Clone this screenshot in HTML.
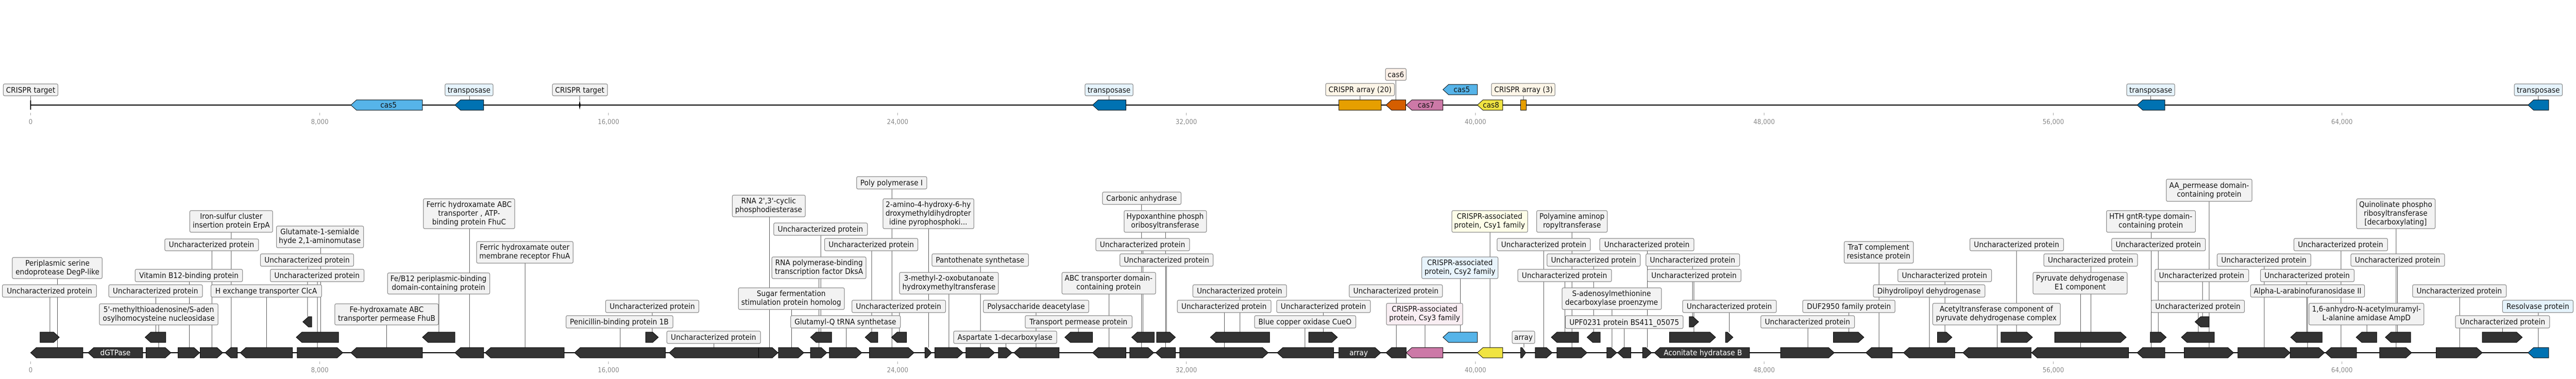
<!DOCTYPE html>
<html><head><meta charset="utf-8"><style>
html,body{margin:0;padding:0;background:#fff;width:100%;height:100%;overflow:hidden;}
svg{display:block;font-family:"DejaVu Sans","Liberation Sans",sans-serif;width:100vw;height:100vh;}
.g{fill:#333;stroke:#000;stroke-width:1}
.ln{stroke:#444;stroke-width:1}
.bx{fill:#f2f2f2;stroke:#888;stroke-width:1.3}
.t{font-size:15px;fill:#111;text-anchor:middle}
.w{font-size:15px;fill:#fff;text-anchor:middle}
.tk{font-size:13px;fill:#888;text-anchor:middle}
.tm{stroke:#999;stroke-width:1}
</style></head><body>
<svg viewBox="0 0 5470 736" preserveAspectRatio="none" xmlns="http://www.w3.org/2000/svg">
<!-- TOP TRACK -->
<line x1="65" y1="204" x2="5412" y2="204" stroke="#000" stroke-width="2"/>
<g class="tm">
<line x1="65" y1="219" x2="65" y2="224"/><line x1="679" y1="219" x2="679" y2="224"/><line x1="1292" y1="219" x2="1292" y2="224"/><line x1="1906" y1="219" x2="1906" y2="224"/><line x1="2519" y1="219" x2="2519" y2="224"/><line x1="3133" y1="219" x2="3133" y2="224"/><line x1="3746" y1="219" x2="3746" y2="224"/><line x1="4360" y1="219" x2="4360" y2="224"/><line x1="4973" y1="219" x2="4973" y2="224"/>
</g>
<g class="tk">
<text x="65" y="241">0</text><text x="679" y="241">8,000</text><text x="1292" y="241">16,000</text><text x="1906" y="241">24,000</text><text x="2519" y="241">32,000</text><text x="3133" y="241">40,000</text><text x="3746" y="241">48,000</text><text x="4360" y="241">56,000</text><text x="4973" y="241">64,000</text>
</g>
<g class="ln">
<line x1="65" y1="186" x2="65" y2="195"/><line x1="1231" y1="186" x2="1231" y2="195"/>
<line x1="997" y1="186" x2="997" y2="194"/><line x1="2355" y1="186" x2="2355" y2="194"/><line x1="4567" y1="186" x2="4567" y2="194"/><line x1="5390" y1="186" x2="5390" y2="194"/>
<line x1="2888" y1="186" x2="2888" y2="194"/><line x1="2964" y1="156" x2="2964" y2="194"/><line x1="3235" y1="186" x2="3235" y2="194"/>
</g>
<line x1="65" y1="195" x2="65" y2="213" stroke="#000" stroke-width="2"/>
<polygon points="1231,195 1233,204 1231,213 1229,204" fill="#000"/>
<polygon class="g" style="fill:#56b4e9" points="745,204 757,194 897,194 897,214 757,214"/>
<text class="t" x="825" y="209">cas5</text>
<polygon class="g" style="fill:#0072b2" points="966,204 978,194 1027,194 1027,214 978,214"/>
<polygon class="g" style="fill:#0072b2" points="2320,204 2332,194 2391,194 2391,214 2332,214"/>
<rect class="g" style="fill:#e69f00" x="2843" y="194" width="90" height="20"/>
<polygon class="g" style="fill:#d55e00" points="2943,204 2955,194 2985,194 2985,214 2955,214"/>
<polygon class="g" style="fill:#cc79a7" points="2986,204 2998,194 3064,194 3064,214 2998,214"/>
<text class="t" x="3028" y="209">cas7</text>
<polygon class="g" style="fill:#56b4e9" points="3064,174 3076,164 3137,164 3137,184 3076,184"/>
<text class="t" x="3104" y="179">cas5</text>
<polygon class="g" style="fill:#f0e442" points="3137,204 3149,194 3191,194 3191,214 3149,214"/>
<text class="t" x="3166" y="209">cas8</text>
<rect class="g" style="fill:#e69f00" x="3229" y="194" width="12" height="20"/>
<polygon class="g" style="fill:#0072b2" points="4538,204 4550,194 4597,194 4597,214 4550,214"/>
<polygon class="g" style="fill:#0072b2" points="5368,204 5380,194 5412,194 5412,214 5380,214"/>
<rect class="bx" x="7" y="163" width="116" height="23" rx="3"/><text class="t" x="65" y="180">CRISPR target</text>
<rect class="bx" x="1173" y="163" width="117" height="23" rx="3"/><text class="t" x="1231" y="180">CRISPR target</text>
<rect class="bx" style="fill:#e6f4fc" x="945" y="163" width="102" height="23" rx="3"/><text class="t" x="996" y="180">transposase</text>
<rect class="bx" style="fill:#e6f4fc" x="2304" y="163" width="102" height="23" rx="3"/><text class="t" x="2355" y="180">transposase</text>
<rect class="bx" style="fill:#e6f4fc" x="4516" y="163" width="102" height="23" rx="3"/><text class="t" x="4567" y="180">transposase</text>
<rect class="bx" style="fill:#e6f4fc" x="5339" y="163" width="102" height="23" rx="3"/><text class="t" x="5390" y="180">transposase</text>
<rect class="bx" style="fill:#fdf6e8" x="2815" y="162" width="146" height="24" rx="3"/><text class="t" x="2888" y="179">CRISPR array (20)</text>
<rect class="bx" style="fill:#fdf1e8" x="2942" y="133" width="44" height="23" rx="3"/><text class="t" x="2964" y="150">cas6</text>
<rect class="bx" style="fill:#fdf6e8" x="3167" y="162" width="135" height="24" rx="3"/><text class="t" x="3235" y="179">CRISPR array (3)</text>

<!-- BOTTOM TRACK -->
<line x1="65" y1="685" x2="5412" y2="685" stroke="#000" stroke-width="2"/>
<g class="tm">
<line x1="65" y1="702" x2="65" y2="707"/><line x1="679" y1="702" x2="679" y2="707"/><line x1="1292" y1="702" x2="1292" y2="707"/><line x1="1906" y1="702" x2="1906" y2="707"/><line x1="2519" y1="702" x2="2519" y2="707"/><line x1="3133" y1="702" x2="3133" y2="707"/><line x1="3746" y1="702" x2="3746" y2="707"/><line x1="4360" y1="702" x2="4360" y2="707"/><line x1="4973" y1="702" x2="4973" y2="707"/>
</g>
<g class="tk">
<text x="65" y="723">0</text><text x="679" y="723">8,000</text><text x="1292" y="723">16,000</text><text x="1906" y="723">24,000</text><text x="2519" y="723">32,000</text><text x="3133" y="723">40,000</text><text x="3746" y="723">48,000</text><text x="4360" y="723">56,000</text><text x="4973" y="723">64,000</text>
</g>
<g class="ln">
<line x1="106" y1="577" x2="106" y2="645"/><line x1="122" y1="541" x2="122" y2="675"/><line x1="331" y1="577" x2="331" y2="645"/><line x1="337" y1="631" x2="337" y2="675"/><line x1="402" y1="547" x2="402" y2="675"/><line x1="450" y1="487" x2="450" y2="675"/><line x1="491" y1="451" x2="491" y2="675"/><line x1="566" y1="577" x2="566" y2="675"/><line x1="653" y1="517" x2="653" y2="615"/><line x1="674" y1="547" x2="674" y2="675"/><line x1="681" y1="481" x2="681" y2="645"/>
<line x1="821" y1="631" x2="821" y2="675"/><line x1="932" y1="571" x2="932" y2="645"/><line x1="997" y1="444" x2="997" y2="675"/><line x1="1115" y1="511" x2="1115" y2="675"/><line x1="1317" y1="637" x2="1317" y2="675"/><line x1="1385" y1="607" x2="1385" y2="645"/>
<line x1="1516" y1="667" x2="1516" y2="675"/><line x1="1634" y1="421" x2="1634" y2="675"/><line x1="1681" y1="601" x2="1681" y2="675"/><line x1="1743" y1="457" x2="1743" y2="645"/><line x1="1739" y1="541" x2="1739" y2="675"/><line x1="1797" y1="637" x2="1797" y2="675"/><line x1="1851" y1="487" x2="1851" y2="645"/><line x1="1894" y1="367" x2="1894" y2="675"/><line x1="1972" y1="444" x2="1972" y2="675"/><line x1="1910" y1="607" x2="1910" y2="645"/><line x1="2082" y1="517" x2="2082" y2="675"/><line x1="2015" y1="571" x2="2015" y2="675"/><line x1="2136" y1="667" x2="2136" y2="675"/>
<line x1="2200" y1="607" x2="2200" y2="675"/><line x1="2290" y1="637" x2="2290" y2="645"/><line x1="2355" y1="571" x2="2355" y2="675"/><line x1="2424" y1="397" x2="2424" y2="675"/><line x1="2475" y1="451" x2="2475" y2="675"/><line x1="2427" y1="487" x2="2427" y2="645"/><line x1="2477" y1="517" x2="2477" y2="645"/><line x1="2633" y1="577" x2="2633" y2="645"/><line x1="2600" y1="607" x2="2600" y2="675"/><line x1="2810" y1="607" x2="2810" y2="645"/><line x1="2771" y1="637" x2="2771" y2="675"/>
<line x1="2965" y1="577" x2="2965" y2="675"/><line x1="3026" y1="631" x2="3026" y2="675"/><line x1="3101" y1="541" x2="3101" y2="645"/><line x1="3164" y1="451" x2="3164" y2="675"/><line x1="3236" y1="667" x2="3236" y2="675"/><line x1="3338" y1="451" x2="3338" y2="675"/><line x1="3278" y1="487" x2="3278" y2="675"/><line x1="3323" y1="547" x2="3323" y2="645"/><line x1="3498" y1="487" x2="3498" y2="675"/><line x1="3384" y1="517" x2="3384" y2="645"/><line x1="3594" y1="517" x2="3594" y2="615"/><line x1="3597" y1="547" x2="3597" y2="645"/><line x1="3423" y1="601" x2="3423" y2="675"/><line x1="3449" y1="638" x2="3449" y2="675"/><line x1="3672" y1="607" x2="3672" y2="645"/><line x1="3839" y1="637" x2="3839" y2="675"/>
<line x1="3926" y1="607" x2="3926" y2="645"/><line x1="3990" y1="511" x2="3990" y2="675"/><line x1="4097" y1="577" x2="4097" y2="675"/><line x1="4130" y1="547" x2="4130" y2="645"/><line x1="4241" y1="631" x2="4241" y2="675"/><line x1="4282" y1="487" x2="4282" y2="645"/><line x1="4440" y1="517" x2="4440" y2="645"/><line x1="4418" y1="571" x2="4418" y2="675"/><line x1="4568" y1="451" x2="4568" y2="675"/><line x1="4583" y1="487" x2="4583" y2="645"/><line x1="4691" y1="391" x2="4691" y2="675"/><line x1="4677" y1="547" x2="4677" y2="615"/><line x1="4668" y1="607" x2="4668" y2="645"/>
<line x1="4808" y1="517" x2="4808" y2="675"/><line x1="4898" y1="547" x2="4898" y2="645"/><line x1="4900" y1="577" x2="4900" y2="675"/><line x1="4971" y1="487" x2="4971" y2="675"/><line x1="5026" y1="631" x2="5026" y2="645"/><line x1="5088" y1="444" x2="5088" y2="675"/><line x1="5091" y1="517" x2="5091" y2="645"/><line x1="5223" y1="577" x2="5223" y2="675"/><line x1="5314" y1="637" x2="5314" y2="645"/><line x1="5390" y1="607" x2="5390" y2="675"/>
</g>

<g class="g">
<polygon points="65,685 77,675 176,675 176,695 77,695"/>
<polygon points="187,685 199,675 303,675 303,695 199,695"/>
<polygon points="310,675 351,675 363,685 351,695 310,695"/>
<polygon points="378,675 412,675 424,685 412,695 378,695"/>
<polygon points="425,675 461,675 473,685 461,695 425,695"/>
<polygon points="478,685 490,675 504,675 504,695 490,695"/>
<polygon points="510,685 522,675 621,675 621,695 522,695"/>
<polygon points="631,675 716,675 728,685 716,695 631,695"/>
<polygon points="745,685 757,675 897,675 897,695 757,695"/>
<polygon points="966,685 978,675 1027,675 1027,695 978,695"/>
<polygon points="1030,685 1042,675 1198,675 1198,695 1042,695"/>
<polygon points="1220,685 1232,675 1413,675 1413,695 1232,695"/>
<polygon points="1421,685 1433,675 1611,675 1611,695 1433,695"/>
<polygon points="1611,675 1640,675 1652,685 1640,695 1611,695"/>
<polygon points="1653,675 1695,675 1707,685 1695,695 1653,695"/>
<polygon points="1721,675 1744,675 1756,685 1744,695 1721,695"/>
<polygon points="1761,675 1818,675 1830,685 1818,695 1761,695"/>
<polygon points="1846,675 1929,675 1941,685 1929,695 1846,695"/>
<polygon points="1964,675 1968,675 1978,685 1968,695 1964,695"/>
<polygon points="1985,675 2033,675 2045,685 2033,695 1985,695"/>
<polygon points="2051,675 2100,675 2112,685 2100,695 2051,695"/>
<polygon points="2120,675 2137,675 2149,685 2137,695 2120,695"/>
<polygon points="2153,685 2165,675 2249,675 2249,695 2165,695"/>
<polygon points="2320,685 2332,675 2391,675 2391,695 2332,695"/>
<polygon points="2399,675 2438,675 2450,685 2438,695 2399,695"/>
<polygon points="2454,685 2466,675 2496,675 2496,695 2466,695"/>
<polygon points="2505,675 2681,675 2693,685 2681,695 2505,695"/>
<polygon points="2712,685 2724,675 2832,675 2832,695 2724,695"/>
<polygon points="2843,675 2920,675 2932,685 2920,695 2843,695"/>
<polygon points="2943,685 2955,675 2986,675 2986,695 2955,695"/>
<polygon style="fill:#cc79a7" points="2986,685 2998,675 3064,675 3064,695 2998,695"/>
<polygon style="fill:#f0e442" points="3137,685 3149,675 3191,675 3191,695 3149,695"/>
<polygon points="3229,675 3232,675 3240,685 3232,695 3229,695"/>
<polygon points="3260,675 3284,675 3296,685 3284,695 3260,695"/>
<polygon points="3306,675 3358,675 3370,685 3358,695 3306,695"/>
<polygon points="3412,675 3421,675 3433,685 3421,695 3412,695"/>
<polygon points="3435,685 3447,675 3463,675 3463,695 3447,695"/>
<polygon points="3488,675 3495,675 3507,685 3495,695 3488,695"/>
<polygon points="3513,685 3525,675 3715,675 3715,695 3525,695"/>
<polygon points="3781,675 3883,675 3895,685 3883,695 3781,695"/>
<polygon points="3962,685 3974,675 4018,675 4018,695 3974,695"/>
<polygon points="4042,685 4054,675 4151,675 4151,695 4054,695"/>
<polygon points="4168,685 4180,675 4313,675 4313,695 4180,695"/>
<polygon points="4314,685 4326,675 4520,675 4520,695 4326,695"/>
<polygon points="4538,685 4550,675 4597,675 4597,695 4550,695"/>
<polygon points="4638,675 4731,675 4743,685 4731,695 4638,695"/>
<polygon points="4752,675 4851,675 4863,685 4851,695 4752,695"/>
<polygon points="4863,675 4924,675 4936,685 4924,695 4863,695"/>
<polygon points="4938,685 4950,675 5004,675 5004,695 4950,695"/>
<polygon points="5053,675 5109,675 5121,685 5109,695 5053,695"/>
<polygon points="5173,675 5259,675 5271,685 5259,695 5173,695"/>
<polygon style="fill:#0072b2" points="5368,685 5380,675 5412,675 5412,695 5380,695"/>
</g>
<g class="g">
<polygon points="85,645 114,645 126,655 114,665 85,665"/>
<polygon points="308,655 320,645 352,645 352,665 320,665"/>
<polygon points="629,655 641,645 719,645 719,665 641,665"/>
<polygon points="897,655 909,645 966,645 966,665 909,665"/>
<polygon points="1371,645 1386,645 1398,655 1386,665 1371,665"/>
<polygon points="1721,655 1733,645 1766,645 1766,665 1733,665"/>
<polygon points="1837,655 1849,645 1864,645 1864,665 1849,665"/>
<polygon points="1893,655 1905,645 1925,645 1925,665 1905,665"/>
<polygon points="2261,655 2273,645 2320,645 2320,665 2273,665"/>
<polygon points="2403,655 2415,645 2451,645 2451,665 2415,665"/>
<polygon points="2456,645 2484,645 2496,655 2484,665 2456,665"/>
<polygon points="2570,655 2582,645 2696,645 2696,665 2582,665"/>
<polygon points="2779,645 2828,645 2840,655 2828,665 2779,665"/>
<polygon style="fill:#56b4e9" points="3064,655 3076,645 3137,645 3137,665 3076,665"/>
<polygon points="3294,655 3306,645 3352,645 3352,665 3306,665"/>
<polygon points="3370,655 3382,645 3398,645 3398,665 3382,665"/>
<polygon points="3545,645 3631,645 3643,655 3631,665 3545,665"/>
<polygon points="3664,645 3668,645 3680,655 3668,665 3664,665"/>
<polygon points="3893,645 3946,645 3958,655 3946,665 3893,665"/>
<polygon points="4114,645 4133,645 4145,655 4133,665 4114,665"/>
<polygon points="4249,645 4304,645 4316,655 4304,665 4249,665"/>
<polygon points="4363,645 4503,645 4515,655 4503,665 4363,665"/>
<polygon points="4566,645 4588,645 4600,655 4588,665 4566,665"/>
<polygon points="4632,655 4644,645 4702,645 4702,665 4644,665"/>
<polygon points="4864,655 4876,645 4931,645 4931,665 4876,665"/>
<polygon points="5003,655 5015,645 5047,645 5047,665 5015,665"/>
<polygon points="5065,655 5077,645 5119,645 5119,665 5077,665"/>
<polygon points="5271,645 5344,645 5356,655 5344,665 5271,665"/>
<polygon points="643,625 655,615 662,615 662,635 655,635"/>
<polygon points="3587,615 3595,615 3607,625 3595,635 3587,635"/>
<polygon points="4661,625 4673,615 4691,615 4691,635 4673,635"/>
</g>
<text class="w" x="245" y="690">dGTPase</text>
<text class="w" x="2885" y="690">array</text>
<text class="w" x="3616" y="690">Aconitate hydratase B</text>

<g>
<rect class="bx" x="5" y="553" width="200" height="24" rx="3"/><text class="t" x="105" y="570">Uncharacterized protein</text>
<rect class="bx" x="26" y="500" width="191" height="41" rx="3"/><text class="t" x="122" y="516">Periplasmic serine</text><text class="t" x="122" y="533">endoprotease DegP-like</text>
<rect class="bx" x="231" y="553" width="199" height="24" rx="3"/><text class="t" x="330" y="570">Uncharacterized protein</text>
<rect class="bx" x="211" y="590" width="252" height="41" rx="3"/><text class="t" x="337" y="606">5'-methylthioadenosine/S-aden</text><text class="t" x="337" y="623">osylhomocysteine nucleosidase</text>
<rect class="bx" x="287" y="523" width="228" height="24" rx="3"/><text class="t" x="401" y="540">Vitamin B12-binding protein</text>
<rect class="bx" x="350" y="464" width="199" height="23" rx="3"/><text class="t" x="449" y="480">Uncharacterized protein</text>
<rect class="bx" x="403" y="409" width="176" height="42" rx="3"/><text class="t" x="491" y="425">Iron-sulfur cluster</text><text class="t" x="491" y="442">insertion protein ErpA</text>
<rect class="bx" x="448" y="553" width="235" height="24" rx="3"/><text class="t" x="565" y="570">H exchange transporter ClcA</text>
<rect class="bx" x="553" y="493" width="198" height="24" rx="3"/><text class="t" x="652" y="510">Uncharacterized protein</text>
<rect class="bx" x="574" y="523" width="199" height="24" rx="3"/><text class="t" x="673" y="540">Uncharacterized protein</text>
<rect class="bx" x="587" y="439" width="185" height="42" rx="3"/><text class="t" x="679" y="455">Glutamate-1-semialde</text><text class="t" x="679" y="472">hyde 2,1-aminomutase</text>
<rect class="bx" x="711" y="590" width="220" height="41" rx="3"/><text class="t" x="821" y="606">Fe-hydroxamate ABC</text><text class="t" x="821" y="623">transporter permease FhuB</text>
<rect class="bx" x="823" y="530" width="217" height="41" rx="3"/><text class="t" x="931" y="546">Fe/B12 periplasmic-binding</text><text class="t" x="931" y="563">domain-containing protein</text>
<rect class="bx" x="899" y="386" width="194" height="58" rx="3"/><text class="t" x="996" y="402">Ferric hydroxamate ABC</text><text class="t" x="996" y="419">transporter , ATP-</text><text class="t" x="996" y="436">binding protein FhuC</text>
<rect class="bx" x="1012" y="469" width="205" height="42" rx="3"/><text class="t" x="1114" y="485">Ferric hydroxamate outer</text><text class="t" x="1114" y="502">membrane receptor FhuA</text>
<rect class="bx" x="1202" y="613" width="227" height="24" rx="3"/><text class="t" x="1315" y="630">Penicillin-binding protein 1B</text>
<rect class="bx" x="1286" y="583" width="198" height="24" rx="3"/><text class="t" x="1385" y="600">Uncharacterized protein</text>
<rect class="bx" x="1416" y="643" width="199" height="24" rx="3"/><text class="t" x="1515" y="660">Uncharacterized protein</text>
<rect class="bx" x="1555" y="379" width="155" height="42" rx="3"/><text class="t" x="1632" y="395">RNA 2',3'-cyclic</text><text class="t" x="1632" y="412">phosphodiesterase</text>
<rect class="bx" x="1568" y="559" width="225" height="42" rx="3"/><text class="t" x="1680" y="575">Sugar fermentation</text><text class="t" x="1680" y="592">stimulation protein homolog</text>
<rect class="bx" x="1643" y="433" width="199" height="24" rx="3"/><text class="t" x="1742" y="450">Uncharacterized protein</text>
<rect class="bx" x="1639" y="499" width="200" height="42" rx="3"/><text class="t" x="1739" y="515">RNA polymerase-binding</text><text class="t" x="1739" y="532">transcription factor DksA</text>
<rect class="bx" x="1679" y="613" width="233" height="24" rx="3"/><text class="t" x="1795" y="630">Glutamyl-Q tRNA synthetase</text>
<rect class="bx" x="1751" y="463" width="198" height="24" rx="3"/><text class="t" x="1850" y="480">Uncharacterized protein</text>
<rect class="bx" x="1819" y="343" width="149" height="24" rx="3"/><text class="t" x="1893" y="360">Poly polymerase I</text>
<rect class="bx" x="1875" y="386" width="193" height="58" rx="3"/><text class="t" x="1971" y="402">2-amino-4-hydroxy-6-hy</text><text class="t" x="1971" y="419">droxymethyldihydropter</text><text class="t" x="1971" y="436">idine pyrophosphoki...</text>
<rect class="bx" x="1809" y="583" width="199" height="24" rx="3"/><text class="t" x="1908" y="600">Uncharacterized protein</text>
<rect class="bx" x="1979" y="493" width="205" height="24" rx="3"/><text class="t" x="2081" y="510">Pantothenate synthetase</text>
<rect class="bx" x="1910" y="529" width="210" height="42" rx="3"/><text class="t" x="2015" y="545">3-methyl-2-oxobutanoate</text><text class="t" x="2015" y="562">hydroxymethyltransferase</text>
<rect class="bx" x="2025" y="643" width="219" height="24" rx="3"/><text class="t" x="2134" y="660">Aspartate 1-decarboxylase</text>
<rect class="bx" x="2088" y="583" width="224" height="24" rx="3"/><text class="t" x="2200" y="600">Polysaccharide deacetylase</text>
<rect class="bx" x="2177" y="613" width="227" height="24" rx="3"/><text class="t" x="2290" y="630">Transport permease protein</text>
<rect class="bx" x="2255" y="529" width="199" height="42" rx="3"/><text class="t" x="2354" y="545">ABC transporter domain-</text><text class="t" x="2354" y="562">containing protein</text>
<rect class="bx" x="2341" y="373" width="167" height="24" rx="3"/><text class="t" x="2424" y="390">Carbonic anhydrase</text>
<rect class="bx" x="2387" y="409" width="175" height="42" rx="3"/><text class="t" x="2474" y="425">Hypoxanthine phosph</text><text class="t" x="2474" y="442">oribosyltransferase</text>
<rect class="bx" x="2327" y="463" width="199" height="24" rx="3"/><text class="t" x="2426" y="480">Uncharacterized protein</text>
<rect class="bx" x="2378" y="493" width="198" height="24" rx="3"/><text class="t" x="2477" y="510">Uncharacterized protein</text>
<rect class="bx" x="2533" y="553" width="199" height="24" rx="3"/><text class="t" x="2632" y="570">Uncharacterized protein</text>
<rect class="bx" x="2500" y="583" width="199" height="24" rx="3"/><text class="t" x="2599" y="600">Uncharacterized protein</text>
<rect class="bx" x="2711" y="583" width="199" height="24" rx="3"/><text class="t" x="2810" y="600">Uncharacterized protein</text>
<rect class="bx" x="2664" y="613" width="215" height="24" rx="3"/><text class="t" x="2771" y="630">Blue copper oxidase CueO</text>
<rect class="bx" x="2865" y="553" width="198" height="24" rx="3"/><text class="t" x="2964" y="570">Uncharacterized protein</text>
<rect class="bx" style="fill:#f9eef3" x="2944" y="589" width="162" height="42" rx="3"/><text class="t" x="3025" y="605">CRISPR-associated</text><text class="t" x="3025" y="622">protein, Csy3 family</text>
<rect class="bx" style="fill:#e8f4fc" x="3019" y="499" width="162" height="42" rx="3"/><text class="t" x="3100" y="515">CRISPR-associated</text><text class="t" x="3100" y="532">protein, Csy2 family</text>
<rect class="bx" style="fill:#fdfde8" x="3083" y="409" width="161" height="42" rx="3"/><text class="t" x="3163" y="425">CRISPR-associated</text><text class="t" x="3163" y="442">protein, Csy1 family</text>
<rect class="bx" x="3211" y="643" width="48" height="24" rx="3"/><text class="t" x="3235" y="660">array</text>
<rect class="bx" x="3263" y="409" width="150" height="42" rx="3"/><text class="t" x="3338" y="425">Polyamine aminop</text><text class="t" x="3338" y="442">ropyltransferase</text>
<rect class="bx" x="3179" y="463" width="198" height="24" rx="3"/><text class="t" x="3278" y="480">Uncharacterized protein</text>
<rect class="bx" x="3397" y="463" width="200" height="24" rx="3"/><text class="t" x="3497" y="480">Uncharacterized protein</text>
<rect class="bx" x="3285" y="493" width="198" height="24" rx="3"/><text class="t" x="3384" y="510">Uncharacterized protein</text>
<rect class="bx" x="3495" y="493" width="199" height="24" rx="3"/><text class="t" x="3594" y="510">Uncharacterized protein</text>
<rect class="bx" x="3223" y="523" width="199" height="24" rx="3"/><text class="t" x="3322" y="540">Uncharacterized protein</text>
<rect class="bx" x="3498" y="523" width="199" height="24" rx="3"/><text class="t" x="3597" y="540">Uncharacterized protein</text>
<rect class="bx" x="3317" y="559" width="211" height="42" rx="3"/><text class="t" x="3422" y="575">S-adenosylmethionine</text><text class="t" x="3422" y="592">decarboxylase proenzyme</text>
<rect class="bx" x="3324" y="613" width="250" height="25" rx="3"/><text class="t" x="3449" y="631">UPF0231 protein BS411_05075</text>
<rect class="bx" x="3573" y="583" width="199" height="24" rx="3"/><text class="t" x="3672" y="600">Uncharacterized protein</text>
<rect class="bx" x="3739" y="613" width="199" height="24" rx="3"/><text class="t" x="3838" y="630">Uncharacterized protein</text>
<rect class="bx" x="3828" y="583" width="196" height="24" rx="3"/><text class="t" x="3926" y="600">DUF2950 family protein</text>
<rect class="bx" x="3916" y="469" width="147" height="42" rx="3"/><text class="t" x="3989" y="485">TraT complement</text><text class="t" x="3989" y="502">resistance protein</text>
<rect class="bx" x="3978" y="553" width="237" height="24" rx="3"/><text class="t" x="4096" y="570">Dihydrolipoyl dehydrogenase</text>
<rect class="bx" x="4030" y="523" width="199" height="24" rx="3"/><text class="t" x="4129" y="540">Uncharacterized protein</text>
<rect class="bx" x="4104" y="589" width="271" height="42" rx="3"/><text class="t" x="4239" y="605">Acetyltransferase component of</text><text class="t" x="4239" y="622">pyruvate dehydrogenase complex</text>
<rect class="bx" x="4183" y="463" width="199" height="24" rx="3"/><text class="t" x="4282" y="480">Uncharacterized protein</text>
<rect class="bx" x="4340" y="493" width="199" height="24" rx="3"/><text class="t" x="4439" y="510">Uncharacterized protein</text>
<rect class="bx" x="4317" y="529" width="200" height="42" rx="3"/><text class="t" x="4417" y="545">Pyruvate dehydrogenase</text><text class="t" x="4417" y="562">E1 component</text>
<rect class="bx" x="4473" y="409" width="189" height="42" rx="3"/><text class="t" x="4567" y="425">HTH gntR-type domain-</text><text class="t" x="4567" y="442">containing protein</text>
<rect class="bx" x="4484" y="463" width="199" height="24" rx="3"/><text class="t" x="4583" y="480">Uncharacterized protein</text>
<rect class="bx" x="4600" y="348" width="182" height="43" rx="3"/><text class="t" x="4691" y="365">AA_permease domain-</text><text class="t" x="4691" y="382">containing protein</text>
<rect class="bx" x="4576" y="523" width="199" height="24" rx="3"/><text class="t" x="4675" y="540">Uncharacterized protein</text>
<rect class="bx" x="4568" y="583" width="198" height="24" rx="3"/><text class="t" x="4667" y="600">Uncharacterized protein</text>
<rect class="bx" x="4708" y="493" width="199" height="24" rx="3"/><text class="t" x="4807" y="510">Uncharacterized protein</text>
<rect class="bx" x="4800" y="523" width="199" height="24" rx="3"/><text class="t" x="4899" y="540">Uncharacterized protein</text>
<rect class="bx" x="4779" y="553" width="242" height="24" rx="3"/><text class="t" x="4900" y="570">Alpha-L-arabinofuranosidase II</text>
<rect class="bx" x="4871" y="463" width="199" height="24" rx="3"/><text class="t" x="4970" y="480">Uncharacterized protein</text>
<rect class="bx" x="4903" y="589" width="244" height="42" rx="3"/><text class="t" x="5025" y="605">1,6-anhydro-N-acetylmuramyl-</text><text class="t" x="5025" y="622">L-alanine amidase AmpD</text>
<rect class="bx" x="5004" y="386" width="167" height="58" rx="3"/><text class="t" x="5087" y="402">Quinolinate phospho</text><text class="t" x="5087" y="419">ribosyltransferase</text><text class="t" x="5087" y="436">[decarboxylating]</text>
<rect class="bx" x="4992" y="493" width="199" height="24" rx="3"/><text class="t" x="5091" y="510">Uncharacterized protein</text>
<rect class="bx" x="5123" y="553" width="199" height="24" rx="3"/><text class="t" x="5222" y="570">Uncharacterized protein</text>
<rect class="bx" x="5214" y="613" width="200" height="24" rx="3"/><text class="t" x="5314" y="630">Uncharacterized protein</text>
<rect class="bx" style="fill:#e6f4fc" x="5314" y="583" width="150" height="24" rx="3"/><text class="t" x="5389" y="600">Resolvase protein</text>
</g>
</svg>
</body></html>
